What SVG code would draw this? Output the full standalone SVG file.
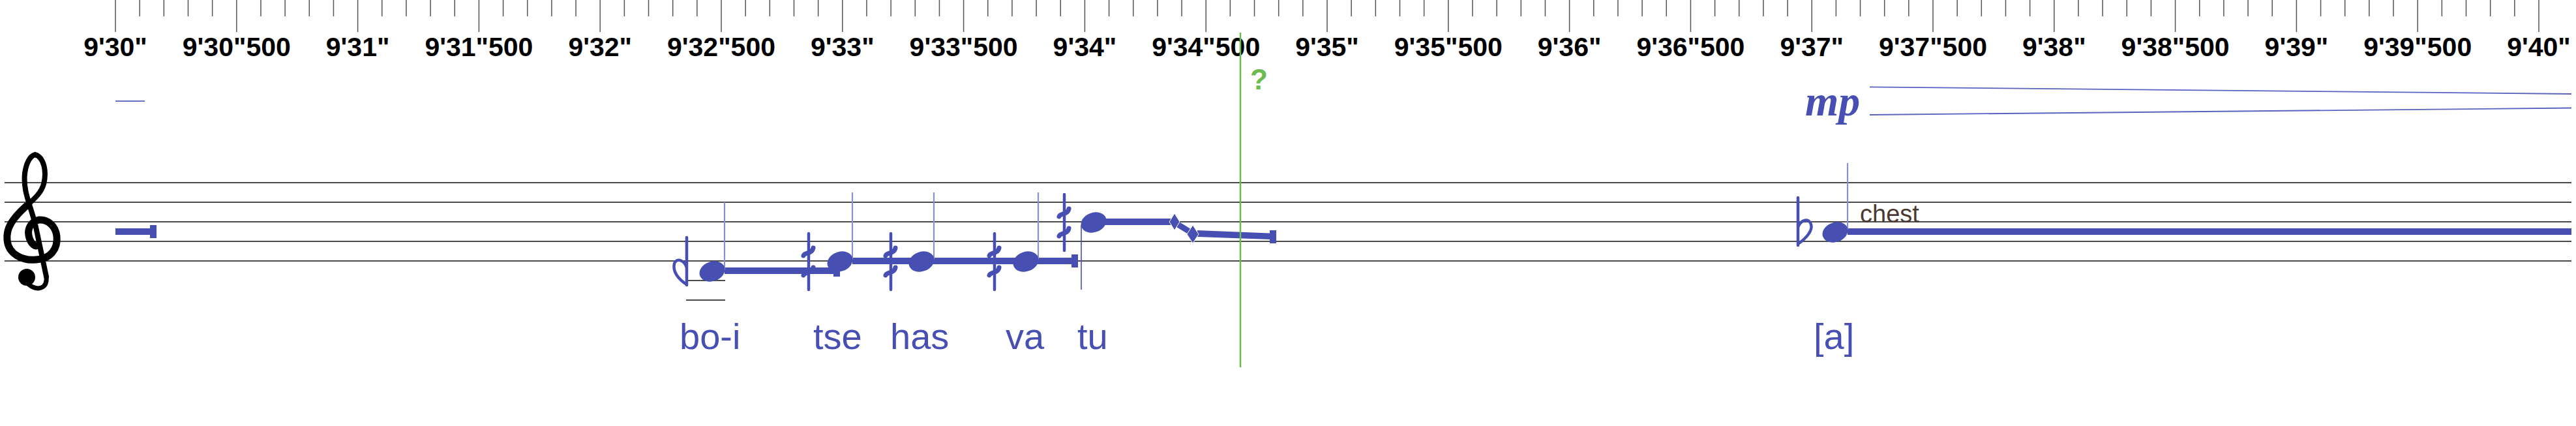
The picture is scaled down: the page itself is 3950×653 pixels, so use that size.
<svg xmlns="http://www.w3.org/2000/svg" width="3950" height="653" viewBox="0 0 3950 653">
<style>
.tick{stroke:#555;stroke-width:1.5;fill:none}
.lbl{font-family:"Liberation Sans",Arial,sans-serif;font-weight:bold;font-size:41px;fill:#000;text-anchor:middle}
.staff{stroke:#111;stroke-width:1.5;fill:none}
.blue{fill:#4750B2}
.stem{stroke:#8A90D4;stroke-width:2.2;fill:none}
.lyr{font-family:"Liberation Sans",Arial,sans-serif;font-size:56px;fill:#4750B2}
.acc{stroke:#4750B2;stroke-width:4.5;fill:none;stroke-linecap:round}
.qsbar{stroke:#4750B2;stroke-width:7;fill:none;stroke-linecap:round}
.hair{stroke:#5A62C0;stroke-width:1.8;fill:none}
</style>
<defs>
<g id="qsharp">
<line class="acc" x1="0" y1="-43" x2="0" y2="43"/>
<path class="qsbar" d="M -8 -9 C -6 -15, 5 -11, 7 -21"/>
<path class="qsbar" d="M -8 21 C -6 15, 5 19, 7 9"/>
</g>
<ellipse id="head" cx="0" cy="0" rx="20" ry="15" transform="rotate(-20)"/>
</defs>
<rect width="3950" height="653" fill="#fff"/>

<g id="ruler">
<path class="tick" d="M214.16 0V25M251.32 0V25M288.48 0V25M325.64 0V25M399.96 0V25M437.12 0V25M474.28 0V25M511.44 0V25M585.76 0V25M622.92 0V25M660.08 0V25M697.24 0V25M771.56 0V25M808.72 0V25M845.88 0V25M883.04 0V25M957.36 0V25M994.52 0V25M1031.68 0V25M1068.84 0V25M1143.16 0V25M1180.32 0V25M1217.48 0V25M1254.64 0V25M1328.96 0V25M1366.12 0V25M1403.28 0V25M1440.44 0V25M1514.76 0V25M1551.92 0V25M1589.08 0V25M1626.24 0V25M1700.56 0V25M1737.72 0V25M1774.88 0V25M1812.04 0V25M1886.36 0V25M1923.52 0V25M1960.68 0V25M1997.84 0V25M2072.16 0V25M2109.32 0V25M2146.48 0V25M2183.64 0V25M2257.96 0V25M2295.12 0V25M2332.28 0V25M2369.44 0V25M2443.76 0V25M2480.92 0V25M2518.08 0V25M2555.24 0V25M2629.56 0V25M2666.72 0V25M2703.88 0V25M2741.04 0V25M2815.36 0V25M2852.52 0V25M2889.68 0V25M2926.84 0V25M3001.16 0V25M3038.32 0V25M3075.48 0V25M3112.64 0V25M3186.96 0V25M3224.12 0V25M3261.28 0V25M3298.44 0V25M3372.76 0V25M3409.92 0V25M3447.08 0V25M3484.24 0V25M3558.56 0V25M3595.72 0V25M3632.88 0V25M3670.04 0V25M3744.36 0V25M3781.52 0V25M3818.68 0V25M3855.84 0V25"/>
<path class="tick" d="M177 0V49M362.8 0V49M548.6 0V49M734.4 0V49M920.2 0V49M1106 0V49M1291.8 0V49M1477.6 0V49M1663.4 0V49M1849.2 0V49M2035 0V49M2220.8 0V49M2406.6 0V49M2592.4 0V49M2778.2 0V49M2964 0V49M3149.8 0V49M3335.6 0V49M3521.4 0V49M3707.2 0V49M3893 0V49"/>
<text class="lbl" x="177" y="86">9'30"</text>
<text class="lbl" x="362.8" y="86">9'30"500</text>
<text class="lbl" x="548.6" y="86">9'31"</text>
<text class="lbl" x="734.4" y="86">9'31"500</text>
<text class="lbl" x="920.2" y="86">9'32"</text>
<text class="lbl" x="1106" y="86">9'32"500</text>
<text class="lbl" x="1291.8" y="86">9'33"</text>
<text class="lbl" x="1477.6" y="86">9'33"500</text>
<text class="lbl" x="1663.4" y="86">9'34"</text>
<text class="lbl" x="1849.2" y="86">9'34"500</text>
<text class="lbl" x="2035" y="86">9'35"</text>
<text class="lbl" x="2220.8" y="86">9'35"500</text>
<text class="lbl" x="2406.6" y="86">9'36"</text>
<text class="lbl" x="2592.4" y="86">9'36"500</text>
<text class="lbl" x="2778.2" y="86">9'37"</text>
<text class="lbl" x="2964" y="86">9'37"500</text>
<text class="lbl" x="3149.8" y="86">9'38"</text>
<text class="lbl" x="3335.6" y="86">9'38"500</text>
<text class="lbl" x="3521.4" y="86">9'39"</text>
<text class="lbl" x="3707.2" y="86">9'39"500</text>
<text class="lbl" x="3893" y="86">9'40"</text>
</g>

<g id="staff">
<path class="staff" d="M7 280H3943M7 310H3943M7 340H3943M7 370H3943M7 400H3943"/>
</g>

<g id="clef">
<path d="M71 424 L55 348 C47 314, 35 294, 38 266 C40 250, 46 239, 54 237 C67 241, 72 262, 67 282 C63 297, 50 307, 38 318" stroke="#000" stroke-width="8" fill="none" stroke-linecap="round"/>
<path d="M40 316 C19 335, 9 350, 11 368 C13 390, 35 400, 55 398 C78 397, 89 381, 87 362 C85 345, 72 336, 60 337 C48 339, 42 350, 44 361 C46 371, 51 376, 55 377" stroke="#000" stroke-width="11" fill="none" stroke-linecap="round"/>
<path d="M71 424 C73 442, 58 447, 44 436" stroke="#000" stroke-width="7" fill="none" stroke-linecap="round"/>
<circle cx="41" cy="425" r="13" fill="#000"/>
</g>

<g id="topdash">
<line x1="177" y1="155" x2="222" y2="155" stroke="#6A70C4" stroke-width="2.2"/>
</g>

<g id="rest" class="blue">
<rect x="177" y="350" width="63" height="10"/>
<rect x="230" y="345" width="10" height="20"/>
</g>

<g id="ledger">
<path class="staff" d="M1053 430H1112M1052 460H1112"/>
</g>

<g id="note-boi">
<path class="acc" d="M1053 364V437"/>
<path d="M1053 436 C1040 428, 1031 416, 1034 404 C1037 395, 1049 398, 1053 410" stroke="#4750B2" stroke-width="4.5" fill="none"/>
<rect class="blue" x="1111" y="410" width="170" height="10"/>
<rect class="blue" x="1278" y="405" width="10" height="19"/>
<line class="stem" x1="1111" y1="310" x2="1111" y2="414"/>
<use href="#head" x="1092" y="416" class="blue"/>
</g>

<g id="note-tse">
<use href="#qsharp" x="1240" y="401"/>
<rect class="blue" x="1307" y="395" width="346" height="10"/>
<rect class="blue" x="1643" y="390" width="10" height="20"/>
<line class="stem" x1="1307" y1="295" x2="1307" y2="398"/>
<use href="#head" x="1288" y="401" class="blue"/>
</g>

<g id="note-has">
<use href="#qsharp" x="1366" y="401"/>
<line class="stem" x1="1432" y1="295" x2="1432" y2="398"/>
<use href="#head" x="1413" y="401" class="blue"/>
</g>

<g id="note-va">
<use href="#qsharp" x="1525" y="401"/>
<line class="stem" x1="1592" y1="295" x2="1592" y2="398"/>
<use href="#head" x="1573" y="401" class="blue"/>
</g>

<g id="note-tu">
<use href="#qsharp" x="1632" y="341"/>
<line x1="1658" y1="345" x2="1658" y2="444" stroke="#4750B2" stroke-width="1.6"/>
<rect class="blue" x="1690" y="335" width="105" height="10"/>
<line x1="1806" y1="344" x2="1824" y2="355" stroke="#4750B2" stroke-width="9"/>
<polygon class="blue" points="1801,327 1809,340 1801,353 1793,340" stroke="#fff" stroke-width="1"/>
<polygon class="blue" points="1836,353 1947,357.5 1947,367 1836,363"/>
<polygon class="blue" points="1829,345 1838,359 1829,373 1820,359" stroke="#fff" stroke-width="1"/>
<rect class="blue" x="1947" y="353" width="10" height="20"/>
<use href="#head" x="1677" y="341" class="blue"/>
</g>

<g id="marker">
<line x1="1902" y1="50" x2="1902" y2="563" stroke="#6CBB4F" stroke-width="2.5"/>
<text x="1917" y="137" font-family="Liberation Sans, Arial, sans-serif" font-weight="bold" font-size="44" fill="#6CBB4F">?</text>
</g>

<g id="dynamic">
<text x="2768" y="177" font-family="Liberation Serif, Times New Roman, serif" font-weight="bold" font-style="italic" font-size="66" fill="#4750B2">mp</text>
<line class="hair" x1="2867" y1="133.3" x2="3943" y2="144"/>
<line class="hair" x1="2867" y1="176" x2="3943" y2="165.5"/>
</g>

<g id="note-a">
<path class="acc" d="M2757 303V376"/>
<path d="M2757 374 C2770 365, 2780 353, 2777 344 C2774 334, 2762 336, 2757 348" stroke="#4750B2" stroke-width="4.5" fill="none"/>
<rect class="blue" x="2833" y="350" width="1110" height="10"/>
<line class="stem" x1="2833" y1="250" x2="2833" y2="352"/>
<use href="#head" x="2814" y="356" class="blue"/>
<text x="2852" y="341" font-family="Liberation Sans, Arial, sans-serif" font-size="38" fill="#4B3A2F">chest</text>
</g>

<g id="lyrics">
<text class="lyr" x="1042" y="535">bo-i</text>
<text class="lyr" x="1247" y="535">tse</text>
<text class="lyr" x="1365" y="535">has</text>
<text class="lyr" x="1542" y="535">va</text>
<text class="lyr" x="1652" y="535">tu</text>
<text class="lyr" x="2781" y="535">[a]</text>
</g>
</svg>
